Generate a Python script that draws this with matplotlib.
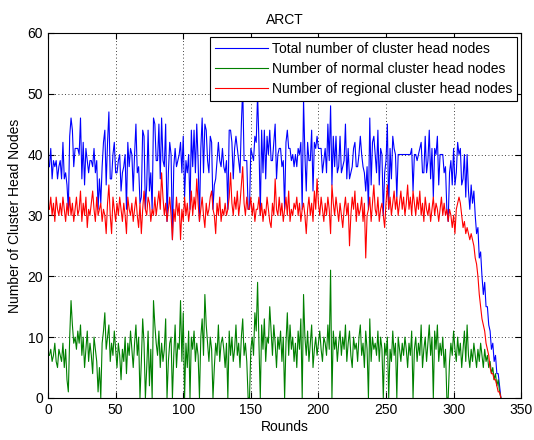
import numpy as np
import matplotlib.pyplot as plt

plt.rcParams['font.family'] = ['Liberation Sans', 'DejaVu Sans']

# normal cluster head nodes per round
normal = [
    7, 8, 6, 7, 9, 6, 5, 8, 7, 6, 9, 5, 8, 3, 1, 10, 16, 12, 9, 10,
    8, 11, 9, 12, 7, 10, 5, 8, 11, 6, 9, 7, 4, 10, 8, 6, 1, 5, 0, 9,
    11, 14, 8, 10, 12, 6, 9, 7, 11, 8, 5, 9, 7, 3, 8, 6, 10, 4, 9, 7,
    11, 8, 5, 9, 12, 7, 10, 0, 6, 13, 9, 0, 5, 11, 2, 8, 0, 16, 12, 9,
    7, 11, 5, 9, 6, 8, 13, 0, 6, 9, 10, 0, 7, 12, 5, 9, 8, 16, 6, 14,
    0, 9, 5, 11, 0, 10, 8, 11, 6, 9, 7, 0, 10, 13, 7, 17, 12, 9, 6, 10,
    8, 0, 5, 9, 7, 12, 6, 9, 10, 8, 5, 9, 0, 11, 7, 10, 6, 8, 12, 7,
    9, 5, 10, 13, 7, 9, 6, 0, 0, 8, 10, 7, 14, 11, 19, 9, 0, 12, 8, 13,
    6, 10, 9, 15, 11, 7, 12, 9, 5, 10, 8, 11, 6, 10, 0, 9, 14, 7, 12, 8,
    10, 6, 9, 5, 11, 8, 13, 0, 17, 10, 7, 11, 6, 9, 12, 5, 8, 10, 7, 9,
    11, 8, 6, 10, 9, 7, 12, 8, 21, 0, 11, 8, 10, 6, 9, 11, 7, 10, 8, 12,
    6, 9, 11, 7, 5, 10, 8, 9, 6, 10, 12, 7, 9, 5, 11, 8, 0, 13, 6, 10,
    8, 9, 7, 11, 6, 10, 8, 0, 9, 7, 10, 0, 8, 6, 11, 7, 9, 0, 10, 8,
    6, 9, 7, 10, 8, 5, 9, 7, 11, 0, 8, 10, 6, 9, 7, 12, 5, 8, 10, 6,
    9, 12, 7, 10, 0, 11, 8, 12, 6, 9, 7, 10, 5, 8, 0, 0, 6, 9, 7, 11,
    8, 6, 10, 7, 9, 5, 8, 11, 6, 12, 7, 5, 8, 6, 9, 7, 5, 8, 6, 9,
    7, 5, 8, 6, 7, 5, 6, 4, 5, 3, 4, 2, 3, 1, 0,
]

# regional cluster head nodes per round
regional = [
    31, 33, 30, 32, 29, 33, 31, 30, 32, 30, 33, 31, 29, 32, 30, 33, 30, 32, 29, 31,
    33, 30, 31, 34, 29, 32, 30, 33, 28, 31, 30, 32, 34, 31, 29, 33, 30, 31, 32, 29,
    31, 30, 27, 32, 35, 30, 27, 33, 31, 29, 32, 30, 33, 31, 29, 32, 30, 27, 33, 31,
    30, 32, 29, 31, 33, 30, 28, 32, 27, 31, 34, 31, 30, 33, 32, 29, 31, 30, 33, 30,
    32, 34, 31, 37, 33, 30, 32, 29, 31, 33, 30, 26, 31, 29, 33, 30, 32, 26, 31, 29,
    33, 30, 32, 29, 31, 34, 30, 33, 31, 36, 32, 29, 31, 33, 30, 28, 32, 30, 31, 33,
    34, 31, 30, 27, 32, 30, 33, 29, 31, 30, 32, 30, 31, 33, 37, 32, 30, 33, 31, 34,
    30, 32, 35, 38, 32, 30, 33, 31, 31, 33, 30, 32, 29, 31, 31, 33, 30, 32, 29, 31,
    30, 33, 31, 29, 28, 32, 30, 36, 31, 30, 33, 30, 32, 29, 31, 33, 30, 34, 29, 31,
    30, 32, 31, 33, 30, 32, 29, 31, 32, 30, 27, 31, 33, 30, 32, 29, 34, 31, 36, 32,
    30, 33, 31, 29, 32, 30, 33, 31, 27, 35, 32, 30, 33, 31, 29, 32, 30, 28, 31, 33,
    30, 32, 25, 30, 33, 31, 34, 29, 32, 30, 31, 33, 29, 32, 23, 30, 31, 33, 29, 32,
    35, 31, 30, 33, 29, 31, 32, 30, 28, 32, 35, 31, 33, 30, 32, 34, 31, 33, 30, 32,
    34, 31, 33, 30, 32, 35, 31, 33, 30, 34, 32, 30, 33, 31, 34, 30, 32, 29, 33, 31,
    30, 32, 29, 31, 33, 30, 32, 31, 29, 31, 33, 30, 32, 30, 31, 29, 31, 30, 28, 30,
    27, 31, 32, 33, 32, 30, 28, 29, 27, 28, 27, 26, 27, 26, 25, 23, 22, 20, 17, 15,
    13, 12, 11, 9, 8, 7, 5, 4, 4, 3, 3, 2, 1, 1, 0,
]

normal = np.array(normal)
regional = np.array(regional)
total = normal + regional
rounds = np.arange(1, len(total) + 1)

fig = plt.figure(figsize=(5.34, 4.40), dpi=100)
ax = fig.add_axes([0.090, 0.0955, 0.886, 0.83])

ax.plot(rounds, total, color='b', lw=0.8, label='Total number of cluster head nodes')
ax.plot(rounds, normal, color=(0, 0.5, 0), lw=0.8, label='Number of normal cluster head nodes')
ax.plot(rounds, regional, color='r', lw=0.8, label='Number of regional cluster head nodes')

ax.set_xlim(0, 350)
ax.set_ylim(0, 60)
ax.set_xticks(np.arange(0, 351, 50))
ax.set_yticks(np.arange(0, 61, 10))
ax.grid(True, linestyle=(0, (1, 3)), color='k', linewidth=0.6)
ax.tick_params(direction='in', top=True, right=True, length=4, labelsize=10)
for s in ax.spines.values():
    s.set_linewidth(0.8)

ax.set_title('ARCT', fontsize=10)
ax.set_xlabel('Rounds', fontsize=10, labelpad=2)
ax.set_ylabel('Number of Cluster Head Nodes', fontsize=10, labelpad=4)

leg = ax.legend(loc='upper right', fontsize=10, fancybox=False, framealpha=1,
                edgecolor='k', handlelength=3.8, handletextpad=0.3,
                labelspacing=0.45, borderaxespad=0.3, borderpad=0.35)
leg.get_frame().set_linewidth(0.8)

fig.savefig('out.png', dpi=100)
